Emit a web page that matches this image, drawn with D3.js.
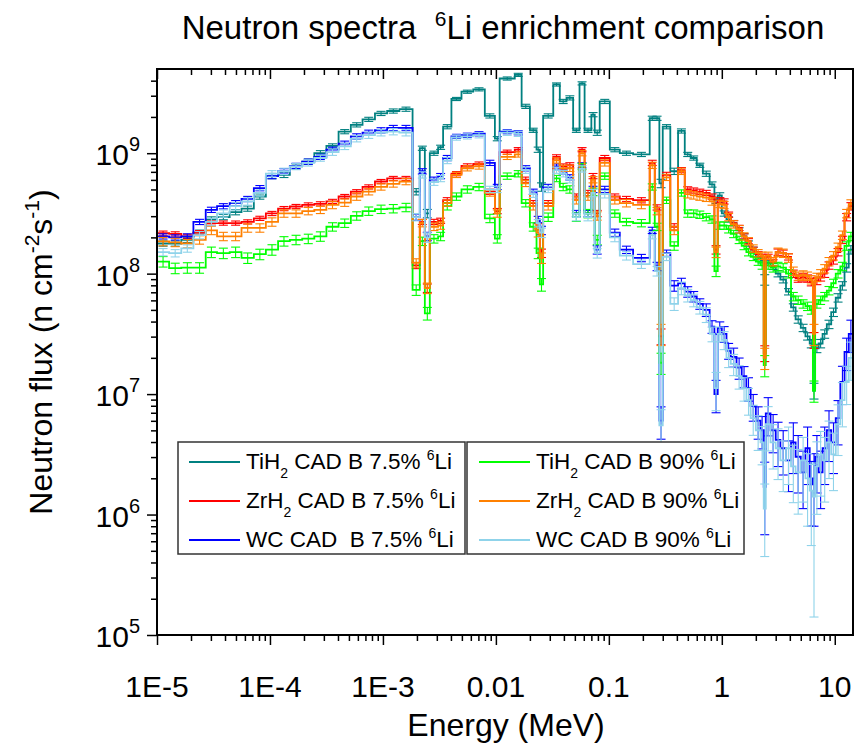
<!DOCTYPE html>
<html>
<head>
<meta charset="utf-8">
<script src="https://cdn.jsdelivr.net/npm/d3@7"></script>
<style>
  body { margin: 0; background: #fff; }
  svg text { font-family: "Liberation Sans", Arial, Helvetica, sans-serif; fill: #000; white-space: pre; }
</style>
</head>
<body>
<svg id="chart" width="855" height="745"></svg>
<script>
// Energy group boundaries (MeV)
const energyEdges = [
  1.0e-5, 1.28e-5, 1.64e-5, 2.1e-5, 2.7e-5, 3.4e-5, 4.4e-5, 5.6e-5, 7.2e-5, 9.2e-5,
  1.18e-4, 1.5e-4, 1.93e-4, 2.47e-4, 3.16e-4, 4.05e-4, 5.2e-4, 6.6e-4, 8.5e-4, 1.09e-3, 1.4e-3,
  1.83e-3, 2.12e-3, 2.35e-3, 2.6e-3, 3.08e-3, 3.41e-3, 4.04e-3, 4.96e-3, 6.3e-3, 7.98e-3,
  9.8e-3, 1.08e-2, 1.47e-2, 1.69e-2, 2.0e-2, 2.29e-2, 2.45e-2, 2.62e-2, 3.22e-2, 3.68e-2,
  4.22e-2, 4.83e-2, 5.5e-2, 6.1e-2, 7.0e-2, 7.5e-2, 8.3e-2, 0.102, 0.125, 0.164,
  0.23, 0.255, 0.28, 0.30, 0.35, 0.41, 0.47, 0.53, 0.60, 0.68, 0.78, 0.86, 0.92, 1.0,
  1.1, 1.2, 1.35, 1.5, 1.65, 1.8, 2.0, 2.2, 2.35, 2.45, 2.7, 3.0, 3.3, 3.7, 4.1, 4.5,
  5.0, 5.5, 6.0, 6.4, 6.7, 7.2, 7.8, 8.5, 9.3, 10.2, 11.2, 12.2, 13.3, 14.5
];

// Group fluxes (n cm^-2 s^-1), one value per energy group
const fluxTiH2_7p5 = [
  1.78e8, 1.78e8, 1.91e8, 2.19e8, 2.82e8, 2.95e8, 3.24e8, 3.47e8, 4.37e8, 6.46e8, 6.61e8,
  7.76e8, 8.51e8, 1.0e9, 1.15e9, 1.51e9, 1.72e9, 1.91e9, 2.14e9, 2.24e9, 2.32e9,
  4.79e8, 1.10e9, 3.16e8, 1.0e9, 1.12e9, 1.66e9, 2.82e9, 3.24e9, 3.39e9, 2.04e9,
  1.32e9, 4.17e9, 4.47e9, 2.45e9, 1.55e9, 1.07e9, 5.25e8, 2.04e9, 3.72e9, 2.69e9,
  2.88e9, 1.55e9, 3.80e9, 1.55e9, 2.09e9, 1.48e9, 2.69e9, 1.07e9, 1.0e9, 9.77e8,
  1.95e9, 1.95e9, 5.62e8, 1.66e9, 7.08e8, 1.53e9, 9.77e8, 9.12e8, 7.94e8, 6.76e8,
  5.5e8, 4.07e8, 4.47e8, 3.16e8, 2.82e8, 2.63e8, 2.29e8, 2.04e8, 1.78e8, 1.58e8,
  1.38e8, 1.29e8, 8.91e7, 1.23e8, 1.15e8, 1.0e8, 8.91e7, 7.08e7, 5.25e7, 4.17e7,
  3.55e7, 3.02e7, 2.63e7, 1.07e7, 2.40e7, 2.63e7, 3.16e7, 3.80e7, 4.79e7, 6.31e7,
  7.94e7, 1.12e8, 1.58e8
];
const fluxZrH2_7p5 = [
  2.17e8, 2.14e8, 2.04e8, 2.19e8, 2.63e8, 2.63e8, 2.63e8, 2.69e8, 2.88e8, 3.16e8, 3.47e8,
  3.61e8, 3.72e8, 3.80e8, 3.98e8, 4.37e8, 4.79e8, 5.25e8, 5.82e8, 6.17e8, 6.17e8,
  1.17e8, 2.69e8, 7.59e7, 2.69e8, 2.75e8, 4.07e8, 6.76e8, 7.85e8, 8.13e8, 4.79e8,
  3.31e8, 1.02e9, 1.07e9, 6.03e8, 3.85e8, 2.45e8, 1.48e8, 3.85e8, 9.33e8, 7.76e8,
  7.94e8, 4.37e8, 1.07e9, 4.68e8, 6.46e8, 3.16e8, 9.12e8, 4.37e8, 4.17e8, 4.07e8,
  8.32e8, 3.55e8, 3.02e7, 6.61e8, 2.45e8, 7.24e8, 5.01e8, 4.9e8, 4.79e8, 4.68e8,
  4.37e8, 1.58e8, 4.07e8, 3.98e8, 3.09e8, 2.63e8, 2.4e8, 2.04e8, 1.86e8, 1.58e8,
  1.45e8, 1.38e8, 2.19e7, 1.38e8, 1.23e8, 1.51e8, 1.48e8, 1.38e8, 1.0e8, 9.12e7,
  9.33e7, 9.12e7, 8.51e7, 2.82e7, 8.71e7, 9.33e7, 1.0e8, 1.17e8, 1.29e8, 1.51e8,
  1.91e8, 2.95e8, 3.63e8
];
const fluxWC_7p5 = [
  2.04e8, 2.0e8, 2.04e8, 2.69e8, 3.39e8, 3.63e8, 3.85e8, 4.17e8, 5.13e8, 6.46e8, 7.08e8,
  7.85e8, 8.51e8, 9.33e8, 1.07e9, 1.20e9, 1.38e9, 1.48e9, 1.55e9, 1.62e9, 1.62e9,
  2.95e8, 7.08e8, 2.04e8, 6.03e8, 6.46e8, 9.12e8, 1.38e9, 1.41e9, 1.45e9, 8.32e8,
  5.25e8, 1.51e9, 1.48e9, 7.5e8, 4.79e8, 2.82e8, 2.29e8, 5.25e8, 7.76e8, 7.08e8,
  6.31e8, 3.16e8, 7.94e8, 3.16e8, 5.01e8, 1.58e8, 5.01e8, 2.19e8, 1.58e8, 1.35e8,
  2.29e8, 1.15e8, 6.03e6, 1.48e8, 7.94e7, 8.32e7, 7.08e7, 6.46e7, 5.62e7, 5.01e7,
  3.63e7, 1.0e7, 3.55e7, 3.16e7, 2.29e7, 2.04e7, 1.66e7, 1.41e7, 1.12e7, 7.94e6,
  6.03e6, 5.01e6, 1.7e6, 6.92e6, 5.01e6, 4.17e6, 3.55e6, 2.82e6, 3.98e6, 3.02e6,
  2.24e6, 3.55e6, 1.78e6, 2.0e6, 3.02e6, 2.24e6, 3.55e6, 5.01e6, 3.98e6, 6.31e6,
  1.26e7, 2.24e7, 3.16e7
];
const fluxTiH2_90 = [
  1.26e8, 1.11e8, 1.12e8, 1.12e8, 1.51e8, 1.48e8, 1.51e8, 1.35e8, 1.45e8, 1.58e8, 1.86e8,
  1.91e8, 1.95e8, 2.04e8, 2.45e8, 2.63e8, 3.02e8, 3.31e8, 3.43e8, 3.47e8, 3.55e8,
  7.33e7, 1.86e8, 4.68e7, 1.95e8, 2.04e8, 3.63e8, 4.37e8, 5.01e8, 5.25e8, 2.88e8,
  1.95e8, 6.46e8, 6.76e8, 3.85e8, 2.45e8, 1.48e8, 8.13e7, 2.95e8, 6.17e8, 5.25e8,
  5.01e8, 2.95e8, 7.76e8, 3.16e8, 4.79e8, 1.91e8, 6.46e8, 3.16e8, 2.69e8, 2.63e8,
  5.25e8, 2.45e8, 1.82e7, 4.07e8, 1.7e8, 4.68e8, 3.16e8, 3.16e8, 3.09e8, 2.95e8,
  2.82e8, 1.05e8, 2.51e8, 2.51e8, 2.34e8, 2.14e8, 1.91e8, 1.7e8, 1.51e8, 1.38e8,
  1.26e8, 1.17e8, 1.74e7, 1.17e8, 1.12e8, 1.15e8, 1.12e8, 1.0e8, 6.46e7, 6.03e7,
  5.62e7, 5.37e7, 5.01e7, 1.07e7, 5.62e7, 6.03e7, 6.46e7, 7.24e7, 8.32e7, 1.0e8,
  1.15e8, 1.7e8, 2.04e8
];
const fluxZrH2_90 = [
  1.85e8, 1.82e8, 1.78e8, 1.91e8, 2.29e8, 2.04e8, 2.04e8, 2.40e8, 2.40e8, 2.69e8, 3.16e8,
  3.16e8, 3.31e8, 3.39e8, 3.72e8, 3.89e8, 4.37e8, 4.79e8, 5.25e8, 5.56e8, 5.82e8,
  1.23e8, 2.63e8, 7.59e7, 2.45e8, 2.51e8, 3.85e8, 6.61e8, 7.5e8, 7.76e8, 4.68e8,
  3.16e8, 9.33e8, 9.77e8, 5.62e8, 3.63e8, 2.19e8, 1.35e8, 3.63e8, 8.71e8, 7.5e8,
  7.5e8, 4.07e8, 1.0e9, 4.37e8, 6.03e8, 3.02e8, 8.32e8, 4.07e8, 3.85e8, 3.72e8,
  7.94e8, 3.31e8, 3.16e7, 6.31e8, 2.29e8, 7.08e8, 4.57e8, 4.47e8, 4.37e8, 4.27e8,
  3.98e8, 1.51e8, 3.8e8, 3.72e8, 2.95e8, 2.57e8, 2.34e8, 2.04e8, 1.86e8, 1.62e8,
  1.48e8, 1.41e8, 2.0e7, 1.41e8, 1.26e8, 1.51e8, 1.48e8, 1.35e8, 1.05e8, 9.55e7,
  9.77e7, 9.55e7, 8.91e7, 3.16e7, 9.33e7, 1.0e8, 1.1e8, 1.26e8, 1.41e8, 1.66e8,
  2.09e8, 3.16e8, 3.8e8
];
const fluxWC_90 = [
  1.51e8, 1.48e8, 1.62e8, 2.09e8, 2.69e8, 3.16e8, 3.63e8, 3.98e8, 4.68e8, 6.76e8, 7.08e8,
  7.76e8, 8.32e8, 9.12e8, 1.02e9, 1.14e9, 1.32e9, 1.41e9, 1.48e9, 1.51e9, 1.48e9,
  2.95e8, 6.61e8, 2.0e8, 5.75e8, 6.17e8, 8.71e8, 1.35e9, 1.38e9, 1.41e9, 5.01e8,
  5.01e8, 1.48e9, 1.45e9, 7.24e8, 4.57e8, 2.63e8, 2.19e8, 5.01e8, 7.24e8, 6.76e8,
  6.03e8, 2.95e8, 7.41e8, 2.95e8, 4.68e8, 1.48e8, 4.57e8, 2.0e8, 1.41e8, 1.20e8,
  2.09e8, 1.05e8, 5.5e6, 1.38e8, 5.62e7, 7.59e7, 6.61e7, 6.03e7, 5.25e7, 4.57e7,
  3.16e7, 1.12e7, 3.16e7, 2.82e7, 2.0e7, 1.78e7, 1.41e7, 1.12e7, 8.91e6, 6.31e6,
  5.01e6, 3.98e6, 1.12e6, 5.62e6, 3.98e6, 3.55e6, 2.82e6, 3.55e6, 2.51e6, 2.24e6,
  2.82e6, 2.0e6, 1.58e6, 1.41e6, 2.51e6, 3.16e6, 2.82e6, 3.98e6, 3.16e6, 5.62e6,
  8.91e6, 1.26e7, 2.0e7
];

// Relative statistical uncertainties (1 sigma) per group
const relErrTiH2_7p5 = [
  0.05, 0.05, 0.05, 0.05, 0.05, 0.05, 0.05, 0.05, 0.05, 0.05, 0.05,
  0.05, 0.05, 0.05, 0.04, 0.04, 0.04, 0.04, 0.04, 0.04, 0.04,
  0.06, 0.04, 0.08, 0.04, 0.04, 0.04, 0.03, 0.03, 0.03, 0.04,
  0.04, 0.03, 0.03, 0.04, 0.04, 0.05, 0.08, 0.04, 0.03, 0.04,
  0.04, 0.04, 0.03, 0.04, 0.04, 0.05, 0.04, 0.04, 0.04, 0.04,
  0.04, 0.04, 0.08, 0.04, 0.06, 0.04, 0.04, 0.04, 0.04, 0.05,
  0.05, 0.06, 0.05, 0.05, 0.05, 0.05, 0.05, 0.05, 0.05, 0.05,
  0.05, 0.05, 0.10, 0.05, 0.06, 0.06, 0.06, 0.06, 0.07, 0.07,
  0.07, 0.07, 0.08, 0.15, 0.08, 0.08, 0.08, 0.08, 0.08, 0.08,
  0.08, 0.08, 0.08
];
const relErrZrH2_7p5 = [
  0.04, 0.04, 0.04, 0.04, 0.04, 0.04, 0.04, 0.04, 0.04, 0.04, 0.04,
  0.04, 0.04, 0.04, 0.04, 0.04, 0.04, 0.04, 0.04, 0.04, 0.04,
  0.06, 0.05, 0.08, 0.05, 0.05, 0.05, 0.04, 0.04, 0.04, 0.05,
  0.05, 0.04, 0.04, 0.05, 0.05, 0.06, 0.08, 0.05, 0.04, 0.05,
  0.05, 0.05, 0.04, 0.05, 0.05, 0.06, 0.05, 0.05, 0.05, 0.05,
  0.05, 0.05, 0.15, 0.05, 0.06, 0.05, 0.05, 0.05, 0.05, 0.05,
  0.05, 0.08, 0.05, 0.05, 0.05, 0.05, 0.05, 0.05, 0.05, 0.05,
  0.05, 0.05, 0.15, 0.05, 0.06, 0.06, 0.06, 0.06, 0.07, 0.07,
  0.07, 0.07, 0.07, 0.15, 0.07, 0.07, 0.07, 0.07, 0.07, 0.07,
  0.07, 0.07, 0.07
];
const relErrWC_7p5 = [
  0.05, 0.05, 0.05, 0.05, 0.05, 0.05, 0.05, 0.05, 0.05, 0.05, 0.05,
  0.05, 0.05, 0.05, 0.05, 0.05, 0.05, 0.05, 0.05, 0.05, 0.05,
  0.06, 0.05, 0.08, 0.05, 0.05, 0.05, 0.04, 0.04, 0.04, 0.05,
  0.05, 0.04, 0.04, 0.05, 0.05, 0.06, 0.08, 0.05, 0.05, 0.05,
  0.05, 0.06, 0.05, 0.06, 0.06, 0.08, 0.06, 0.07, 0.07, 0.07,
  0.06, 0.08, 0.30, 0.06, 0.10, 0.10, 0.10, 0.10, 0.10, 0.12,
  0.12, 0.30, 0.12, 0.15, 0.15, 0.18, 0.20, 0.20, 0.22, 0.25,
  0.30, 0.30, 0.60, 0.35, 0.35, 0.40, 0.40, 0.45, 0.45, 0.50,
  0.50, 0.50, 0.55, 0.60, 0.50, 0.50, 0.50, 0.45, 0.45, 0.40,
  0.35, 0.30, 0.30
];
const relErrTiH2_90 = [
  0.10, 0.10, 0.10, 0.10, 0.10, 0.10, 0.10, 0.10, 0.10, 0.10, 0.09,
  0.09, 0.09, 0.09, 0.08, 0.08, 0.08, 0.08, 0.08, 0.08, 0.08,
  0.10, 0.08, 0.12, 0.08, 0.08, 0.07, 0.07, 0.07, 0.07, 0.08,
  0.08, 0.06, 0.06, 0.07, 0.08, 0.10, 0.12, 0.08, 0.06, 0.07,
  0.07, 0.08, 0.06, 0.08, 0.07, 0.09, 0.06, 0.07, 0.07, 0.07,
  0.06, 0.07, 0.20, 0.06, 0.08, 0.06, 0.07, 0.07, 0.07, 0.07,
  0.07, 0.10, 0.07, 0.07, 0.07, 0.07, 0.07, 0.07, 0.07, 0.07,
  0.07, 0.07, 0.20, 0.07, 0.08, 0.08, 0.08, 0.08, 0.08, 0.08,
  0.08, 0.08, 0.08, 0.20, 0.08, 0.08, 0.08, 0.08, 0.08, 0.08,
  0.08, 0.08, 0.08
];
const relErrZrH2_90 = [
  0.08, 0.08, 0.08, 0.08, 0.08, 0.08, 0.08, 0.08, 0.08, 0.08, 0.07,
  0.07, 0.07, 0.07, 0.07, 0.07, 0.07, 0.06, 0.06, 0.06, 0.06,
  0.08, 0.07, 0.10, 0.07, 0.07, 0.06, 0.05, 0.05, 0.05, 0.06,
  0.07, 0.05, 0.05, 0.06, 0.07, 0.08, 0.10, 0.07, 0.05, 0.06,
  0.06, 0.07, 0.05, 0.07, 0.06, 0.08, 0.06, 0.07, 0.07, 0.07,
  0.06, 0.07, 0.20, 0.06, 0.08, 0.06, 0.07, 0.07, 0.07, 0.07,
  0.07, 0.10, 0.07, 0.07, 0.07, 0.07, 0.07, 0.07, 0.07, 0.07,
  0.07, 0.07, 0.20, 0.07, 0.08, 0.08, 0.08, 0.08, 0.08, 0.08,
  0.08, 0.08, 0.08, 0.20, 0.08, 0.08, 0.08, 0.08, 0.08, 0.08,
  0.08, 0.08, 0.08
];
const relErrWC_90 = [
  0.07, 0.07, 0.07, 0.07, 0.07, 0.07, 0.07, 0.07, 0.06, 0.06, 0.06,
  0.06, 0.06, 0.06, 0.06, 0.06, 0.06, 0.06, 0.06, 0.06, 0.06,
  0.07, 0.06, 0.09, 0.06, 0.06, 0.06, 0.05, 0.05, 0.05, 0.06,
  0.06, 0.05, 0.05, 0.06, 0.06, 0.07, 0.09, 0.06, 0.06, 0.06,
  0.06, 0.07, 0.06, 0.07, 0.07, 0.09, 0.07, 0.08, 0.08, 0.08,
  0.07, 0.09, 0.35, 0.07, 0.12, 0.12, 0.12, 0.12, 0.12, 0.14,
  0.14, 0.35, 0.14, 0.17, 0.17, 0.20, 0.22, 0.22, 0.25, 0.28,
  0.32, 0.35, 0.60, 0.40, 0.40, 0.45, 0.45, 0.50, 0.50, 0.55,
  0.55, 0.60, 0.65, 0.90, 0.60, 0.55, 0.55, 0.50, 0.50, 0.45,
  0.40, 0.35, 0.35
];

// Legend entries: [main text, subscript, middle text, superscript, tail]
const seriesLabels = [
  ["TiH", "2", " CAD B 7.5% ", "6", "Li"],
  ["ZrH", "2", " CAD B 7.5% ", "6", "Li"],
  ["WC CAD  B 7.5% ", "", "", "6", "Li"],
  ["TiH", "2", " CAD B 90% ", "6", "Li"],
  ["ZrH", "2", " CAD B 90% ", "6", "Li"],
  ["WC CAD B 90% ", "", "", "6", "Li"]
];
const seriesColors = ["#008080", "#ff0000", "#0000ff", "#00ff00", "#ff8000", "#8fd3ea"];

const xTickValues = [1e-5, 1e-4, 1e-3, 0.01, 0.1, 1, 10];
const xTickLabels = ["1E-5", "1E-4", "1E-3", "0.01", "0.1", "1", "10"];
const yTickValues = [1e5, 1e6, 1e7, 1e8, 1e9];
const yTickExponents = ["5", "6", "7", "8", "9"];

const titleText = ["Neutron spectra  ", "6", "Li enrichment comparison"];
const xTitle = "Energy (MeV)";

// ---------------------------------------------------------------
const fluxes = [fluxTiH2_7p5, fluxZrH2_7p5, fluxWC_7p5, fluxTiH2_90, fluxZrH2_90, fluxWC_90];
const relErrs = [relErrTiH2_7p5, relErrZrH2_7p5, relErrWC_7p5, relErrTiH2_90, relErrZrH2_90, relErrWC_90];

const svg = d3.select("#chart");
const plot = { left: 157, right: 853, top: 69, bottom: 635 };

const x = d3.scaleLog().domain([1e-5, 14.5]).range([plot.left, plot.right]);
const y = d3.scaleLog().domain([1e5, 5e9]).range([plot.bottom, plot.top]);

svg.append("rect").attr("width", 855).attr("height", 745).attr("fill", "#fff");

svg.append("defs").append("clipPath").attr("id", "plotClip")
  .append("rect")
  .attr("x", plot.left).attr("y", plot.top)
  .attr("width", plot.right - plot.left).attr("height", plot.bottom - plot.top);

const dataLayer = svg.append("g").attr("clip-path", "url(#plotClip)");

const stepLine = d3.line()
  .x(d => x(d[0]))
  .y(d => y(d[1]))
  .curve(d3.curveStepAfter);

fluxes.forEach((vals, s) => {
  const color = seriesColors[s];
  const g = dataLayer.append("g");
  const pts = energyEdges.map((e, i) => [e, vals[Math.min(i, vals.length - 1)]]);
  g.append("path")
    .attr("d", stepLine(pts))
    .attr("fill", "none")
    .attr("stroke", color)
    .attr("stroke-width", 1.8)
    .attr("stroke-linejoin", "miter");

  // error bars at the logarithmic centre of each group
  const errs = relErrs[s];
  const cap = 4.5;
  const eb = g.append("g").attr("stroke", color).attr("stroke-width", 1.1);
  vals.forEach((v, i) => {
    const xc = x(Math.sqrt(energyEdges[i] * energyEdges[i + 1]));
    const hi = v * (1 + errs[i]);
    const lo = Math.max(v * (1 - errs[i]), 1e4);
    const yh = y(hi), yl = y(lo);
    eb.append("line").attr("x1", xc).attr("x2", xc).attr("y1", yh).attr("y2", yl);
    eb.append("line").attr("x1", xc - cap).attr("x2", xc + cap).attr("y1", yh).attr("y2", yh);
    eb.append("line").attr("x1", xc - cap).attr("x2", xc + cap).attr("y1", yl).attr("y2", yl);
  });
});

// ---------------- axes ----------------
function minorTicks(lo, hi) {
  const out = [];
  for (let p = Math.floor(Math.log10(lo)); p <= Math.ceil(Math.log10(hi)); p++) {
    for (let k = 2; k <= 9; k++) {
      const v = k * Math.pow(10, p);
      if (v > lo && v < hi) out.push(v);
    }
  }
  return out;
}
const xMinor = minorTicks(1e-5, 14.5);
const yMinor = minorTicks(1e5, 5e9);

function styleAxis(g) {
  g.select(".domain").remove();
  g.selectAll(".tick line").attr("stroke", "#000").attr("stroke-width", 1.5);
}

// bottom (outward ticks)
svg.append("g").attr("transform", `translate(0,${plot.bottom})`)
  .call(d3.axisBottom(x).tickValues(xTickValues).tickSize(10).tickFormat(""))
  .call(styleAxis);
svg.append("g").attr("transform", `translate(0,${plot.bottom})`)
  .call(d3.axisBottom(x).tickValues(xMinor).tickSize(6).tickFormat(""))
  .call(styleAxis);
// top (inward ticks)
svg.append("g").attr("transform", `translate(0,${plot.top})`)
  .call(d3.axisTop(x).tickValues(xTickValues).tickSize(-10).tickFormat(""))
  .call(styleAxis);
svg.append("g").attr("transform", `translate(0,${plot.top})`)
  .call(d3.axisTop(x).tickValues(xMinor).tickSize(-6).tickFormat(""))
  .call(styleAxis);
// left (outward ticks)
svg.append("g").attr("transform", `translate(${plot.left},0)`)
  .call(d3.axisLeft(y).tickValues(yTickValues).tickSize(10).tickFormat(""))
  .call(styleAxis);
svg.append("g").attr("transform", `translate(${plot.left},0)`)
  .call(d3.axisLeft(y).tickValues(yMinor).tickSize(6).tickFormat(""))
  .call(styleAxis);

// frame
svg.append("rect")
  .attr("x", plot.left).attr("y", plot.top)
  .attr("width", plot.right - plot.left).attr("height", plot.bottom - plot.top)
  .attr("fill", "none").attr("stroke", "#000").attr("stroke-width", 2);

// x tick labels
svg.append("g").selectAll("text").data(xTickValues).join("text")
  .attr("x", d => x(d)).attr("y", 697)
  .attr("text-anchor", "middle")
  .attr("font-size", 30)
  .text((d, i) => xTickLabels[i]);

// y tick labels: 10 with superscript exponent
const yLab = svg.append("g").selectAll("text").data(yTickValues).join("text")
  .attr("x", 140).attr("y", d => y(d) + 12)
  .attr("text-anchor", "end")
  .attr("font-size", 30);
yLab.append("tspan").text("10");
yLab.append("tspan").attr("dy", -14).attr("font-size", 20).text((d, i) => yTickExponents[i]);

// axis titles
svg.append("text")
  .attr("x", 506).attr("y", 736)
  .attr("text-anchor", "middle").attr("font-size", 32)
  .text(xTitle);

const yt = svg.append("text")
  .attr("transform", "translate(52,352) rotate(-90)")
  .attr("text-anchor", "middle").attr("font-size", 32);
yt.append("tspan").text("Neutron flux (n cm");
yt.append("tspan").attr("dy", -13).attr("font-size", 21).text("-2");
yt.append("tspan").attr("dy", 13).text("s");
yt.append("tspan").attr("dy", -13).attr("font-size", 21).text("-1");
yt.append("tspan").attr("dy", 13).text(")");

// title
const tt = svg.append("text")
  .attr("x", 503).attr("y", 39)
  .attr("text-anchor", "middle").attr("font-size", 33);
tt.append("tspan").text(titleText[0]);
tt.append("tspan").attr("dy", -13).attr("font-size", 21).text(titleText[1]);
tt.append("tspan").attr("dy", 13).text(titleText[2]);

// ---------------- legend ----------------
const legendBoxes = [
  { x: 178, y: 442, w: 287, h: 112, lineX: 189, textX: 246 },
  { x: 467, y: 442, w: 277, h: 112, lineX: 479, textX: 536 }
];
const rowY = [462, 501, 540];
legendBoxes.forEach((b, bi) => {
  const lg = svg.append("g");
  lg.append("rect").attr("x", b.x).attr("y", b.y).attr("width", b.w).attr("height", b.h)
    .attr("fill", "#fff").attr("stroke", "#333").attr("stroke-width", 1.5);
  for (let r = 0; r < 3; r++) {
    const s = bi * 3 + r;
    const lab = seriesLabels[s];
    lg.append("line")
      .attr("x1", b.lineX).attr("x2", b.lineX + 51)
      .attr("y1", rowY[r]).attr("y2", rowY[r])
      .attr("stroke", seriesColors[s]).attr("stroke-width", 2);
    const t = lg.append("text").attr("x", b.textX).attr("y", rowY[r] + 7).attr("font-size", 22.5);
    t.append("tspan").text(lab[0]);
    if (lab[1]) {
      t.append("tspan").attr("dy", 9).attr("font-size", 14).text(lab[1]);
      t.append("tspan").attr("dy", -9).text(lab[2]);
    }
    t.append("tspan").attr("dy", -9).attr("font-size", 14).text(lab[3]);
    t.append("tspan").attr("dy", 9).text(lab[4]);
  }
});
</script>
</body>
</html>
